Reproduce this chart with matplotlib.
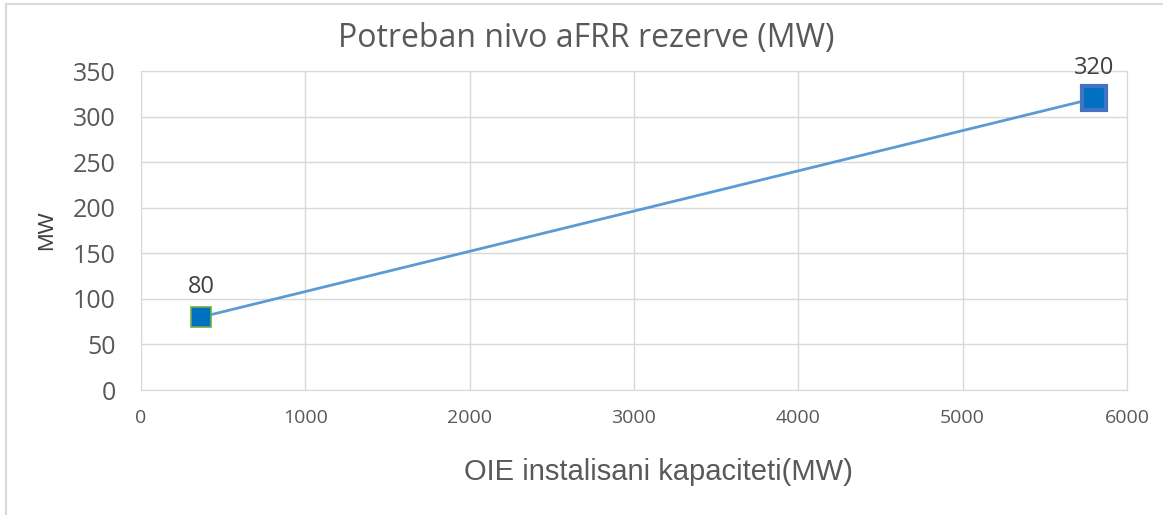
import matplotlib.pyplot as plt
from matplotlib.lines import Line2D

# installed capacity of renewables (MW) vs required aFRR reserve (MW)
capacity = [365, 5800]
reserve = [80, 320]
labels = ["80", "320"]

x_ticks = [0, 1000, 2000, 3000, 4000, 5000, 6000]
y_ticks = [0, 50, 100, 150, 200, 250, 300, 350]

grid_c = "#D9D9D9"
text_c = "#595959"

fig = plt.figure(figsize=(11.63, 5.15), dpi=100)
# outer chart frame (only the left and top edges are visible)
fig.lines.append(Line2D([0.005, 0.005], [0.0, 0.992], transform=fig.transFigure,
                        color=grid_c, linewidth=1.5))
fig.lines.append(Line2D([0.005, 1.0], [0.992, 0.992], transform=fig.transFigure,
                        color=grid_c, linewidth=1.5))
ax = fig.add_axes([0.1212, 0.2427, 0.8478, 0.6193])

ax.plot(capacity, reserve, color="#5B9BD5", linewidth=2, zorder=2)
ax.plot(capacity[0], reserve[0], marker="s", markersize=14, color="#0070C0",
        markeredgecolor="#70AD47", markeredgewidth=1.2, zorder=3)
ax.plot(capacity[1], reserve[1], marker="s", markersize=17, color="#0070C0",
        markeredgecolor="#4472C4", markeredgewidth=3, zorder=3)

for xv, yv, t in zip(capacity, reserve, labels):
    ax.annotate(t, (xv, yv), xytext=(0, 13), textcoords="offset points",
                ha="center", va="bottom", fontsize=17, color="#404040",
                family="Open Sans")

ax.set_xlim(0, 6000)
ax.set_ylim(0, 350)
ax.set_xticks(x_ticks)
ax.set_yticks(y_ticks)
ax.grid(True, color=grid_c, linewidth=1)
ax.set_axisbelow(True)
for s in ax.spines.values():
    s.set_color(grid_c)
ax.tick_params(length=0, colors=text_c)
ax.tick_params(axis="y", labelsize=18, pad=18)
ax.tick_params(axis="x", labelsize=14, pad=14)
for lab in ax.get_xticklabels() + ax.get_yticklabels():
    lab.set_family("Open Sans")

fig.text(0.504, 0.926, "Potreban nivo aFRR rezerve (MW)", ha="center", va="center",
         fontsize=23, color=text_c, family="Open Sans")
fig.text(0.04, 0.553, "MW", ha="center", va="center", rotation=90,
         fontsize=16, color="#404040", family="Liberation Sans")
fig.text(0.566, 0.083, "OIE instalisani kapaciteti(MW)", ha="center", va="center",
         fontsize=21, color=text_c, family="Liberation Sans")

fig.savefig("out.png", dpi=100)
